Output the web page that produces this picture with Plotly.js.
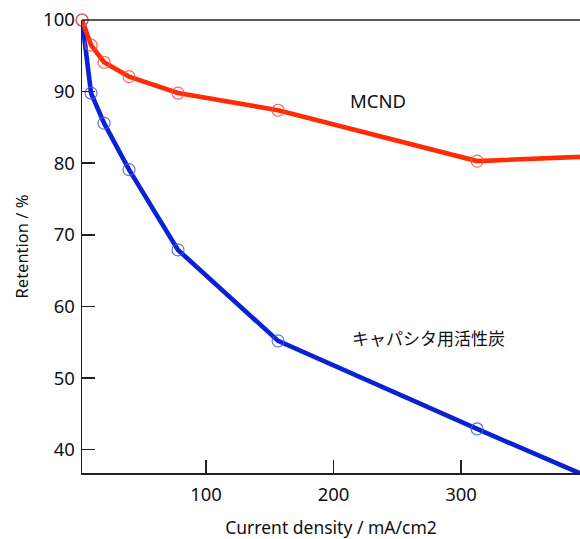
<!DOCTYPE html>
<html>
<head>
<meta charset="utf-8">
<script src="https://cdn.plot.ly/plotly-3.0.1.min.js"></script>
<style>html,body{margin:0;padding:0;background:#fff;}#chart{width:580px;height:539px;}</style>
</head>
<body>
<div id="chart"></div>
<script>
// Current density (mA/cm2)
const currentDensity = [2.75, 9.8, 20, 39.6, 78, 156.5, 312.6, 625];
// Retention (%)
const mcndRetention = [100, 96.5, 94.1, 92.1, 89.8, 87.4, 80.3, 82.6];
const carbonRetention = [100, 89.8, 85.6, 79.1, 67.9, 55.2, 42.9, 18.9];
const seriesNames = ["MCND", "キャパシタ用活性炭"];
const xTicks = [100, 200, 300];
const yTicks = [40, 50, 60, 70, 80, 90, 100];

const FONT = '"Noto Sans", "Noto Sans CJK JP", sans-serif';
const JFONT = '"Noto Sans CJK JP", sans-serif';

const traces = [
  {x: currentDensity, y: carbonRetention, name: seriesNames[1], mode: 'lines',
   line: {color: '#0a22d4', width: 4.6}, hoverinfo: 'skip'},
  {x: currentDensity, y: mcndRetention, name: seriesNames[0], mode: 'lines',
   line: {color: '#ff2a06', width: 4.6}, hoverinfo: 'skip'},
  {x: currentDensity, y: carbonRetention, mode: 'markers', cliponaxis: false,
   marker: {symbol: 'circle-open', size: 12, color: 'rgba(70,90,230,0.85)', line: {width: 1.2}}},
  {x: currentDensity, y: mcndRetention, mode: 'markers', cliponaxis: false,
   marker: {symbol: 'circle-open', size: 12, color: 'rgba(255,80,70,0.85)', line: {width: 1.2}}}
];

const layout = {
  width: 580, height: 539,
  margin: {l: 82, r: 0, t: 20, b: 66},
  paper_bgcolor: '#fff', plot_bgcolor: '#fff',
  showlegend: false,
  font: {family: FONT, color: '#111'},
  xaxis: {
    range: [2.7, 393.3], tickvals: xTicks, ticks: 'inside', ticklen: 13, tickwidth: 1.5,
    tickcolor: '#222', showline: true, linecolor: '#222', linewidth: 1.5,
    showgrid: false, zeroline: false, ticklabelstandoff: 4,
    tickfont: {size: 18.5, family: FONT, color: '#111'},
    title: {text: 'Current density / mA/cm2', font: {size: 17.5, family: FONT, color: '#111'}, standoff: 18}
  },
  yaxis: {
    range: [36.75, 100], tickvals: yTicks, ticks: 'inside', ticklen: 13, tickwidth: 1.5,
    tickcolor: '#222', showline: true, linecolor: '#222', linewidth: 1.5,
    showgrid: false, zeroline: false, ticklabelstandoff: 2,
    tickfont: {size: 18.5, family: FONT, color: '#111'},
    title: {text: 'Retention / %', font: {size: 16.5, family: FONT, color: '#111'}, standoff: 10}
  },
  shapes: [
    {type: 'line', xref: 'paper', yref: 'paper', x0: 0, x1: 1, y0: 1, y1: 1,
     line: {color: '#222', width: 1.5}}
  ],
  annotations: [
    {x: 211, y: 88.7, xref: 'x', yref: 'y', text: seriesNames[0], showarrow: false,
     xanchor: 'left', font: {size: 18.5, family: FONT, color: '#111'}},
    {x: 213, y: 55.7, xref: 'x', yref: 'y', text: seriesNames[1], showarrow: false,
     xanchor: 'left', font: {size: 17, family: JFONT, color: '#111'}}
  ]
};

Plotly.newPlot('chart', traces, layout, {staticPlot: true, displayModeBar: false});
</script>
</body>
</html>
